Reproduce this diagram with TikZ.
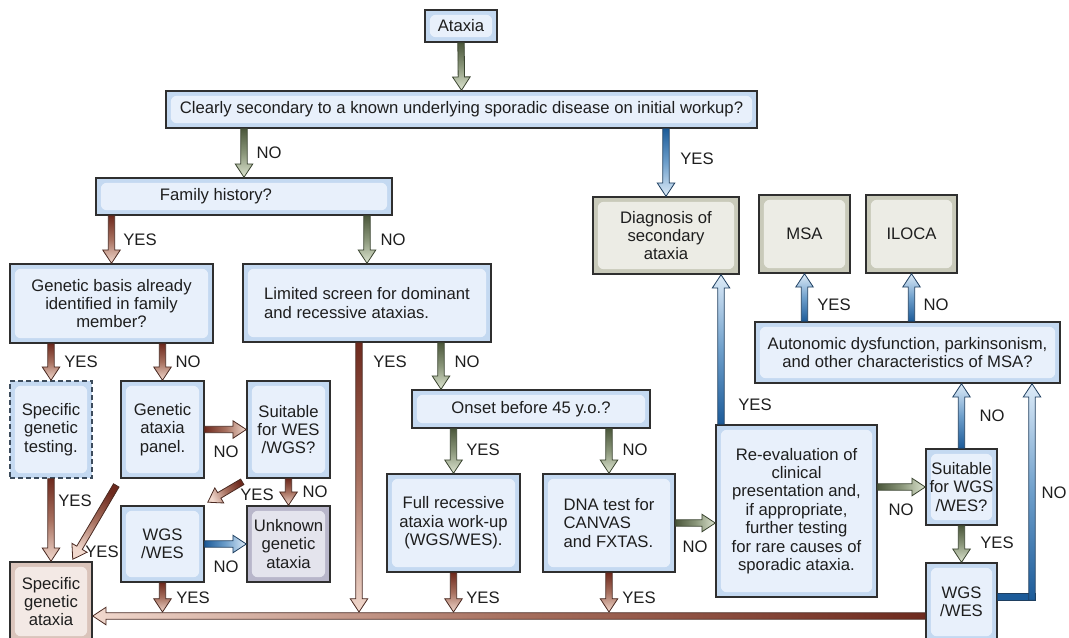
\documentclass[tikz,border=0pt]{standalone}
\usepackage{fontspec}
\setmainfont{Liberation Sans}
\usetikzlibrary{calc}

\definecolor{ink}{HTML}{1E1E1E}
\definecolor{boxline}{HTML}{2F2F2F}
\definecolor{dashline}{HTML}{3D4C5C}
\definecolor{bluout}{HTML}{C4D9F1}
\definecolor{bluin}{HTML}{E8F0FB}
\definecolor{olvout}{HTML}{C9CABA}
\definecolor{olvin}{HTML}{ECECE5}
\definecolor{rosout}{HTML}{DAC4BB}
\definecolor{rosin}{HTML}{F3E9E5}
\definecolor{lilout}{HTML}{B8B6CA}
\definecolor{lilin}{HTML}{E4E4ED}
\definecolor{grndark}{HTML}{4C583C}
\definecolor{grnmid}{HTML}{8A967A}
\definecolor{grnlight}{HTML}{DCE4CF}
\definecolor{grnedge}{HTML}{3A4430}
\definecolor{brndark}{HTML}{6E2A1E}
\definecolor{brnmid}{HTML}{A7705F}
\definecolor{brnlight}{HTML}{F1D8CD}
\definecolor{brnedge}{HTML}{4A2A22}
\definecolor{bludark}{HTML}{1C5B99}
\definecolor{blumid}{HTML}{6E9FCB}
\definecolor{blulight}{HTML}{DDEBF8}
\definecolor{bluedge}{HTML}{1F3F60}

\newcommand\flowarrow[3]{%
  \path #2 coordinate (fa-s);
  \path #3 coordinate (fa-e);
  \coordinate (fa-b) at ($(fa-e)!10pt!(fa-s)$);
  \pgfpointdiff{\pgfpointanchor{fa-s}{center}}{\pgfpointanchor{fa-e}{center}}%
  \pgfgetlastxy{\fadx}{\fady}%
  \pgfmathsetmacro\faangle{atan2(\fady,\fadx)+90}%
  \draw[draw=#1edge, line width=0.6pt, top color=#1dark, bottom color=#1light,
        middle color=#1mid, shading angle=\faangle]
    ($(fa-s)!2.4pt!90:(fa-e)$) -- ($(fa-b)!2.4pt!90:(fa-e)$) -- ($(fa-b)!6.6pt!90:(fa-e)$)
    -- (fa-e) -- ($(fa-b)!6.6pt!-90:(fa-e)$) -- ($(fa-b)!2.4pt!-90:(fa-e)$)
    -- ($(fa-s)!2.4pt!-90:(fa-e)$) -- cycle;
}

\begin{document}
\begin{tikzpicture}[x=0.75pt, y=-0.75pt,
  font=\fontsize{12.5pt}{13.8pt}\selectfont,
  flowbox/.style 2 args={draw=boxline, line width=1.1pt, fill=#1, align=center,
              inner sep=1pt, text=ink,
              path picture={\fill[#2, rounded corners=4.5pt]
                ([shift={(3.6pt,-3.6pt)}]path picture bounding box.north west) rectangle
                ([shift={(-3.6pt,3.6pt)}]path picture bounding box.south east);}},
  bluebox/.style={flowbox={bluout}{bluin}},
  olivebox/.style={flowbox={olvout}{olvin}},
  rosebox/.style={flowbox={rosout}{rosin}},
  lilacbox/.style={flowbox={lilout}{lilin}},
  testbox/.style={bluebox, draw=dashline, dash pattern=on 3.5pt off 2.5pt},
  wh/.style 2 args={minimum width=#1*0.75pt, minimum height=#2*0.75pt},
  lbl/.style={inner sep=0pt, text=ink},
]
\useasboundingbox (0,0) rectangle (1069,637);

\node[bluebox, wh={72}{32}]   (ataxia) at (461,26) {Ataxia};
\node[bluebox, wh={591}{37}]  (clear) at (461.5,109.5) {Clearly secondary to a known underlying sporadic disease on initial workup?};
\node[bluebox, wh={296}{37}]  (fam) at (244,196.5) {Family history?\hspace*{42pt}};
\node[olivebox, wh={146}{77}] (diag) at (666,235.5) {Diagnosis of\\secondary\\ataxia};
\node[olivebox, wh={91}{78}]  (msa) at (804.5,234) {MSA};
\node[olivebox, wh={91}{78}]  (iloca) at (911.5,234) {ILOCA};
\node[bluebox, wh={203}{79}]  (gen) at (111.5,303.5) {Genetic basis already\\identified in family\\member?};
\node[bluebox, wh={248}{78}, align=left] (lim) at (367,303) {Limited screen for dominant\\and recessive ataxias.};
\node[bluebox, wh={305}{61}]  (auto) at (907.5,352.5) {Autonomic dysfunction, parkinsonism,\\and other characteristics of MSA?};
\node[bluebox, wh={238}{38}]  (onset) at (531,409) {Onset before 45 y.o.?};
\node[testbox, wh={82}{97}]   (sgt) at (51,429.5) {Specific\\genetic\\testing.};
\node[bluebox, wh={83}{97}]   (panel) at (162.5,429.5) {Genetic\\ataxia\\panel.};
\node[bluebox, wh={83}{97}]   (suit) at (288.5,429.5) {Suitable\\for WES\\/WGS?};
\node[bluebox, wh={83}{76}]   (wgs) at (162.5,544) {WGS\\/WES};
\node[lilacbox, wh={83}{76}]  (unk) at (288.5,544) {Unknown\\genetic\\ataxia};
\node[rosebox, wh={82}{79}]   (sga) at (51,601.5) {Specific\\genetic\\ataxia};
\node[bluebox, wh={133}{98}]  (full) at (453.5,523) {Full recessive\\ataxia work-up\\(WGS/WES).};
\node[bluebox, wh={132}{98}, align=left] (dna) at (609,523) {DNA test for\\CANVAS\\and FXTAS.};
\node[bluebox, wh={161}{172}] (reev) at (796.5,511) {Re-evaluation of\\clinical\\presentation and,\\if appropriate,\\further testing\\for rare causes of\\sporadic ataxia.};
\node[bluebox, wh={71}{76}]   (suit2) at (961.5,487) {Suitable\\for WGS\\/WES?};
\node[bluebox, wh={71}{78}]   (wgs2) at (961.5,602) {WGS\\/WES};

\coordinate (rail) at (500,616);
\coordinate (railtop) at (500,612);
\coordinate (limyes) at ([xshift=-6pt]lim.south);
\coordinate (limno) at ([xshift=55.5pt]lim.south);
\coordinate (reevyes) at ([xshift=-56.6pt]reev.north);
\coordinate (wgsturn) at (1032,597);
\coordinate (wgsout) at (wgs2.east |- wgsturn);

\flowarrow{grn}{(ataxia.south)}{(clear.north)}
\flowarrow{grn}{(clear.south -| fam.north)}{(fam.north)}
\flowarrow{blu}{(clear.south -| diag.north)}{(diag.north)}
\flowarrow{brn}{(fam.south -| gen.north)}{(gen.north)}
\flowarrow{grn}{(fam.south -| lim.north)}{(lim.north)}
\flowarrow{brn}{(gen.south -| sgt.north)}{(sgt.north)}
\flowarrow{brn}{(gen.south -| panel.north)}{(panel.north)}
\flowarrow{brn}{(panel.east)}{(suit.west)}
\flowarrow{brn}{([shift={(-3pt,-2.3pt)}]suit.south west)}{([shift={(2.3pt,2.3pt)}]wgs.north east)}
\flowarrow{brn}{(suit.south)}{(unk.north)}
\flowarrow{blu}{(wgs.east)}{(unk.west)}
\flowarrow{brn}{([shift={(-3pt,-5pt)}]panel.south west)}{([shift={(-15pt,1.5pt)}]sga.north east)}
\flowarrow{brn}{(sgt.south)}{(sga.north)}
\flowarrow{brn}{(wgs2.west |- rail)}{(sga.east |- rail)}
\flowarrow{brn}{(wgs.south)}{(wgs.south |- railtop)}
\flowarrow{brn}{(limyes)}{(limyes |- railtop)}
\flowarrow{grn}{(limno)}{(limno |- onset.north)}
\flowarrow{grn}{(onset.south -| full.north)}{(full.north)}
\flowarrow{grn}{(onset.south -| dna.north)}{(dna.north)}
\flowarrow{brn}{(full.south)}{(full.south |- railtop)}
\flowarrow{brn}{(dna.south)}{(dna.south |- railtop)}
\flowarrow{grn}{(dna.east)}{(dna.east -| reev.west)}
\flowarrow{blu}{(reevyes)}{(reevyes |- diag.south)}
\flowarrow{grn}{(reev.east |- suit2.west)}{(suit2.west)}
\flowarrow{blu}{(suit2.north)}{(suit2.north |- auto.south)}
\flowarrow{grn}{(suit2.south)}{(wgs2.north)}
\flowarrow{blu}{(auto.north -| msa.south)}{(msa.south)}
\flowarrow{blu}{(auto.north -| iloca.south)}{(iloca.south)}
\draw[draw=bluedge, line width=0.6pt, fill=bludark] ([yshift=2.4pt]wgsout) rectangle ([shift={(2.4pt,-2.4pt)}]wgsturn);
\flowarrow{blu}{([yshift=-2.4pt]wgsturn)}{(wgsturn |- auto.south)}

\node[lbl] (t-clear-no) at (269,153) {NO};
\node[lbl] (t-clear-yes) at (697,159) {YES};
\node[lbl] (t-fam-yes) at (140,240) {YES};
\node[lbl] (t-fam-no) at (393,240) {NO};
\node[lbl] (t-gen-yes) at (81,362) {YES};
\node[lbl] (t-gen-no) at (188,362) {NO};
\node[lbl] (t-lim-yes) at (390,362) {YES};
\node[lbl] (t-lim-no) at (467,362) {NO};
\node[lbl] (t-panel-no) at (226,452) {NO};
\node[lbl] (t-suit-yes) at (257,495) {YES};
\node[lbl] (t-suit-no) at (315,492) {NO};
\node[lbl] (t-wgs-no) at (226,567) {NO};
\node[lbl] (t-panel-yes) at (102,552) {YES};
\node[lbl] (t-sgt-yes) at (75,501) {YES};
\node[lbl] (t-wgs-yes) at (193,598) {YES};
\node[lbl] (t-onset-yes) at (483,450) {YES};
\node[lbl] (t-onset-no) at (635,450) {NO};
\node[lbl] (t-full-yes) at (483,598) {YES};
\node[lbl] (t-dna-yes) at (639,598) {YES};
\node[lbl] (t-dna-no) at (695,547) {NO};
\node[lbl] (t-reev-yes) at (755,405) {YES};
\node[lbl] (t-reev-no) at (901,510) {NO};
\node[lbl] (t-suit2-no) at (992,416) {NO};
\node[lbl] (t-suit2-yes) at (997,543) {YES};
\node[lbl] (t-wgs2-no) at (1054,493) {NO};
\node[lbl] (t-auto-yes) at (834,305) {YES};
\node[lbl] (t-auto-no) at (936,305) {NO};
\end{tikzpicture}
\end{document}
